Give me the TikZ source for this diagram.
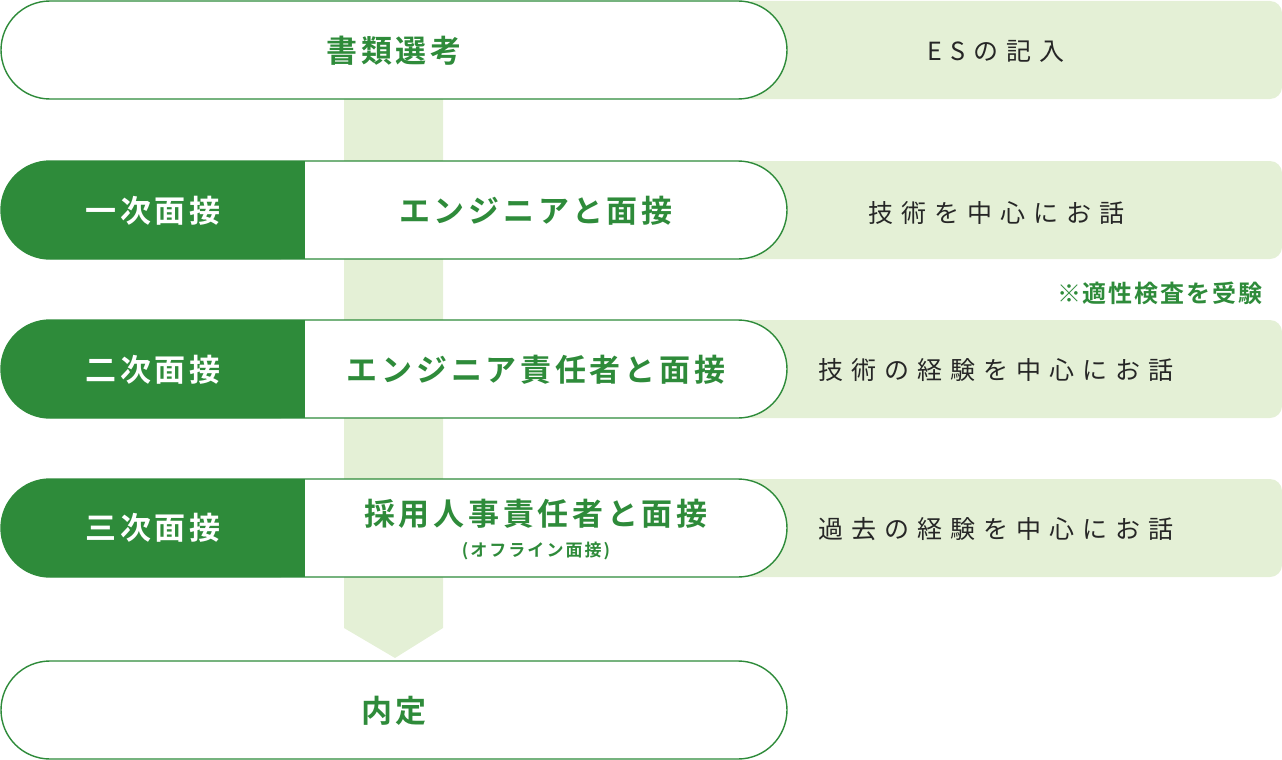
\documentclass[tikz,border=0pt]{standalone}
\usepackage{fontspec}
\setmainfont{Noto Sans CJK JP}
\newfontfamily\jpb[LetterSpace=12]{Noto Sans CJK JP Bold}
\newfontfamily\jpr[LetterSpace=32]{Noto Sans CJK JP}
\definecolor{dg}{HTML}{2E8B3A}
\definecolor{lg}{HTML}{E4F0D6}
\tikzset{
 lbl/.style={text=dg,font=\jpb\fontsize{31}{34}\selectfont},
 wlbl/.style={text=white,font=\jpb\fontsize{31}{34}\selectfont},
 rtx/.style={text=black!85,font=\jpr\fontsize{25}{28}\selectfont},
 bgbox/.style={fill=lg,rounded corners=12pt},
 pill/.style={fill=white,draw=dg,line width=1.4pt,rounded corners=49pt},
}
\begin{document}
\begin{tikzpicture}[x=1pt,y=-1pt]
\useasboundingbox (0,0) rectangle (1282,760);
\fill[lg] (344,99) -- (443,99) -- (443,628) -- (395,658) -- (344,628) -- cycle;
\foreach \t in {1,161,320,479} \fill[bgbox] (740,\t) rectangle (1282,\t+98);
\foreach \t in {1,161,320,479,661} \draw[pill] (1,\t) rectangle (787,\t+98);
\foreach \t in {161,320,479}{
 \fill[dg,rounded corners=49pt] (1,\t) rectangle (330,\t+98);
 \fill[dg] (250,\t) rectangle (305,\t+98);
 \fill[white] (305,\t+0.8) rectangle (335,\t+97.2);
}
\node[lbl] (r1) at (394,51) {書類選考};
\node[rtx] (n1) at (996,51) {ESの記入};
\node[wlbl] (s2) at (153,211) {一次面接};
\node[lbl] (r2) at (536,211) {エンジニアと面接};
\node[rtx] (n2) at (996,213) {技術を中心にお話};
\node[text=dg,font={\fontspec[LetterSpace=8]{Noto Sans CJK JP Bold}\fontsize{24}{27}\selectfont},anchor=east] (nt) at (1266,293) {※適性検査を受験};
\node[wlbl] (s3) at (153,370) {二次面接};
\node[lbl] (r3) at (536,370) {エンジニア責任者と面接};
\node[rtx] (n3) at (996,370) {技術の経験を中心にお話};
\node[wlbl] (s4) at (153,528) {三次面接};
\node[lbl] (r4) at (536,514) {採用人事責任者と面接};
\node[text=dg,font={\fontspec[LetterSpace=12]{Noto Sans CJK JP Bold}\fontsize{17}{20}\selectfont}] (r4b) at (536,551) {(オフライン面接)};
\node[rtx] (n4) at (996,529) {過去の経験を中心にお話};
\node[lbl] (r5) at (394,711) {内定};
\end{tikzpicture}
\end{document}
